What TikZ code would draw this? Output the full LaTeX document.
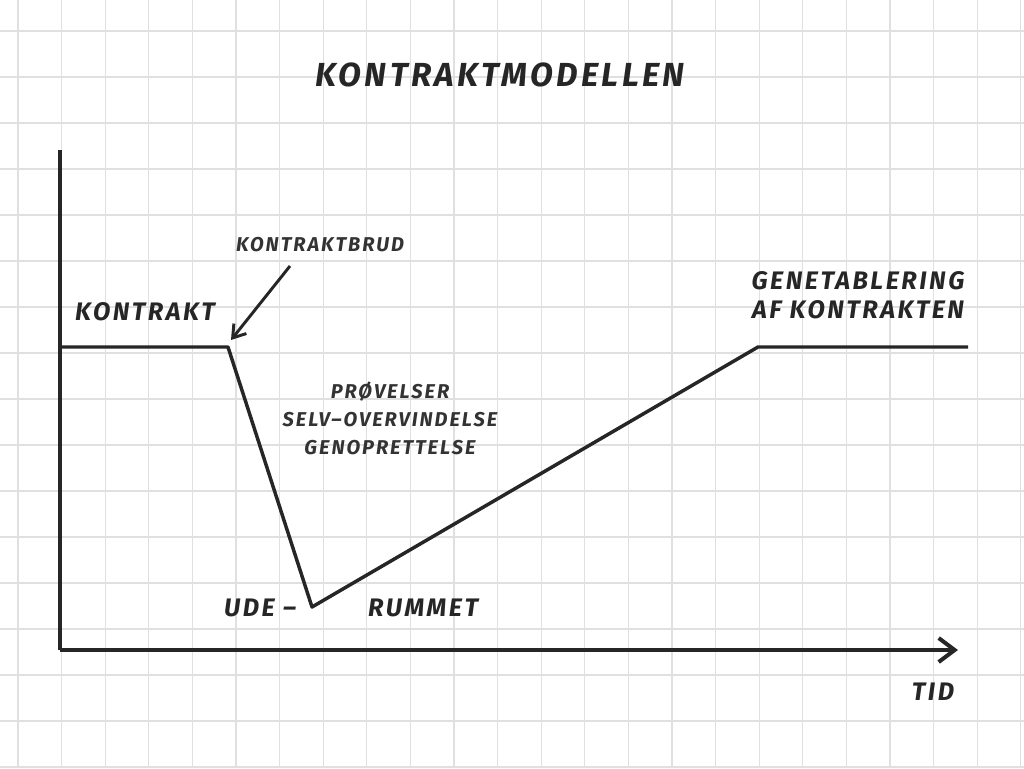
\documentclass[tikz,border=0pt]{standalone}
\usetikzlibrary{arrows.meta}
\usepackage{fontspec}
\setmainfont{Fira Sans}[LetterSpace=10]
\begin{document}
\begin{tikzpicture}[x=0.75pt,y=-0.75pt,
 lbl/.style={font=\bfseries\itshape\fontsize{19}{22}\selectfont,text=black!85,align=center},
 lblsm/.style={font=\bfseries\itshape\fontsize{15}{18}\selectfont,text=black!80,align=center},
 curve/.style={line width=2.6pt,black!85,line join=round}]
\useasboundingbox (0,0) rectangle (1024,768);
\fill[white] (0,0) rectangle (1024,768);
\foreach \x in {18,61.6,...,1024} \draw[black!12,line width=1pt] (\x,0)--(\x,768);
\foreach \y in {31,77,...,768} \draw[black!12,line width=1pt] (0,\y)--(1024,\y);
\coordinate (o) at (60,650); \coordinate (top) at (60,150); \coordinate (xe) at (958,650);
\draw[line width=3pt,black!85] (top)--(o);
\draw[line width=3pt,black!85,-{Straight Barb[length=12pt,width=18pt]}] (o)--(xe);
\coordinate (a) at (62,347); \coordinate (b) at (228,347); \coordinate (c) at (312,607);
\coordinate (d) at (758,347); \coordinate (e) at (968,347);
\draw[curve] (a)--(b)--(c)--(d)--(e);
\node[lbl,font=\bfseries\itshape\fontsize{25}{28}\selectfont] (title) at (500,75) {KONTRAKTMODELLEN};
\node[lbl] (k) at (145,312) {KONTRAKT};
\node[lblsm] (kb) at (320,245) {KONTRAKTBRUD};
\coordinate (as) at (290,266);
\draw[line width=2.2pt,black!85,-{Straight Barb[length=9pt,width=12pt]}] (as)--(231,340);
\node[lbl] (g) at (858,295) {GENETABLERING\\AF KONTRAKTEN};
\node[lblsm,font=\bfseries\itshape\fontsize{15}{21}\selectfont] (m) at (390,418) {PRØVELSER\\SELV–OVERVINDELSE\\GENOPRETTELSE};
\node[lbl] (u) at (260,608) {UDE –};
\node[lbl] (r) at (423,608) {RUMMET};
\node[lbl] (t) at (933,692) {TID};
\end{tikzpicture}
\end{document}
